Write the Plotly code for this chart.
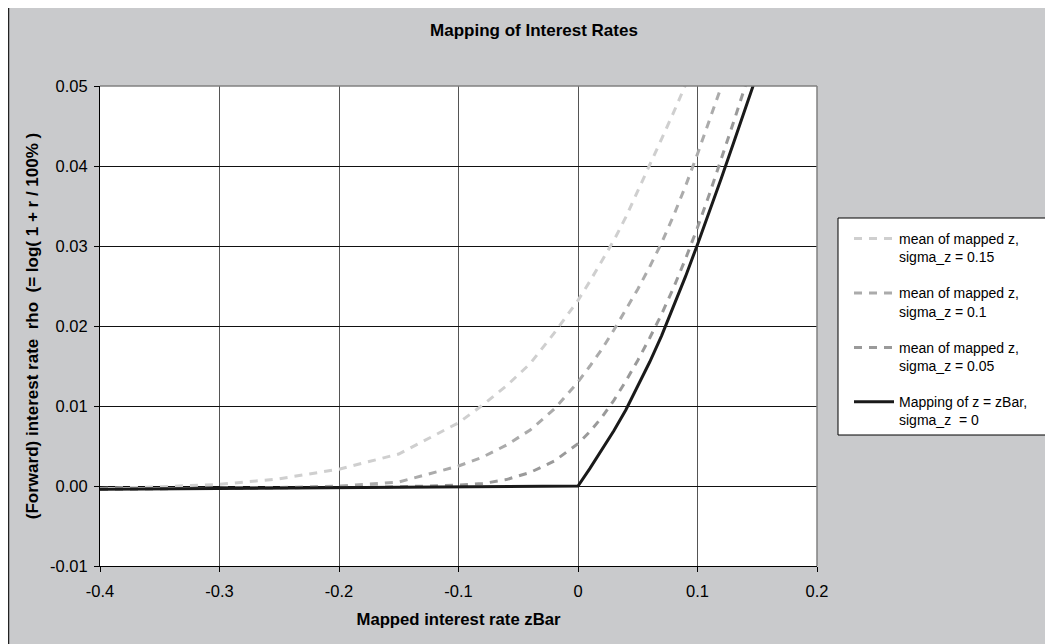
import plotly.graph_objects as go

# ---- data ----
x_vals = [-0.40, -0.35, -0.30, -0.25, -0.20, -0.15, -0.10, -0.08, -0.06, -0.04, -0.02,
          0.00, 0.01, 0.02, 0.03, 0.04, 0.05, 0.06, 0.07, 0.08, 0.09, 0.10,
          0.11, 0.12, 0.13, 0.14, 0.15, 0.16]

rho_sigma_015 = [-0.0003, -0.0001, 0.0002, 0.0009, 0.0021, 0.0040, 0.0079, 0.0101, 0.0125, 0.0153, 0.0191,
                 0.0232, 0.0256, 0.0281, 0.0307, 0.0336, 0.0368, 0.0401, 0.0434, 0.0467, 0.0500, 0.0535,
                 0.0570, 0.0605, 0.0640, 0.0675, 0.0710, 0.0745]

rho_sigma_010 = [-0.0004, -0.00035, -0.0003, -0.0002, 0.0000, 0.0005, 0.0025, 0.0036, 0.0051, 0.0070, 0.0096,
                 0.0130, 0.0150, 0.0171, 0.0195, 0.0220, 0.0246, 0.0274, 0.0304, 0.0338, 0.0375, 0.0415,
                 0.0456, 0.0497, 0.0540, 0.0583, 0.0626, 0.0669]

rho_sigma_005 = [-0.0004, -0.00035, -0.0003, -0.00025, -0.0002, -0.0001, 0.0001, 0.0003, 0.0008, 0.0017, 0.0031,
                 0.0053, 0.0068, 0.0086, 0.0107, 0.0131, 0.0157, 0.0185, 0.0215, 0.0248, 0.0284, 0.0323,
                 0.0365, 0.0409, 0.0454, 0.0500, 0.0546, 0.0592]

rho_sigma_000 = [-0.0004, -0.00035, -0.0003, -0.00025, -0.0002, -0.00015, -0.0001, -0.00008, -0.00006, -0.00004, -0.00002,
                 0.0000, 0.0022, 0.0045, 0.0069, 0.0095, 0.0124, 0.0155, 0.0188, 0.0224, 0.0262, 0.0302,
                 0.0343, 0.0385, 0.0428, 0.0471, 0.0515, 0.0559]

series_names = ["mean of mapped z,<br>sigma_z = 0.15",
                "mean of mapped z,<br>sigma_z = 0.1",
                "mean of mapped z,<br>sigma_z = 0.05",
                "Mapping of z = zBar,<br>sigma_z  = 0"]

x_tick_vals = [-0.4, -0.3, -0.2, -0.1, 0.0, 0.1, 0.2]
x_tick_text = ["-0.4", "-0.3", "-0.2", "-0.1", "0", "0.1", "0.2"]
y_tick_vals = [-0.01, 0.0, 0.01, 0.02, 0.03, 0.04, 0.05]
y_tick_text = ["-0.01", "0.00", "0.01", "0.02", "0.03", "0.04", "0.05"]

# ---- figure geometry (page is offset by the 8px body margin) ----
OFF = 8
W, H = 1053 - OFF, 644 - OFF
PL, PR, PT, PB = 100, 817, 86, 566          # plot area in page pixels
L, R, T, B = PL - OFF, W - (PR - OFF), PT - OFF, H - (PB - OFF)
pw, ph = W - L - R, H - T - B

def px_x(p):
    return (p - OFF - L) / pw

def px_y(p):
    return (H - B - (p - OFF)) / ph

FONT = "Liberation Sans, Arial, sans-serif"
styles = [
    dict(color="#cfcfcf", width=3, dash="8px,7px"),
    dict(color="#ababab", width=3, dash="8px,7px"),
    dict(color="#9a9a9a", width=3, dash="8px,7px"),
    dict(color="#1a1a1a", width=3, dash="solid"),
]
data_series = [rho_sigma_015, rho_sigma_010, rho_sigma_005, rho_sigma_000]

fig = go.Figure()
for i, (name, ys, st) in enumerate(zip(series_names, data_series, styles)):
    fig.add_trace(go.Scatter(x=x_vals, y=ys, mode="lines", name=name,
                             line=st, legendgroup=str(i), hoverinfo="skip"))

fig.update_layout(
    width=W, height=H,
    margin=dict(l=L, r=R, t=T, b=B, pad=0),
    paper_bgcolor="#c9cacc",
    plot_bgcolor="#ffffff",
    font=dict(family=FONT, size=16, color="#000000"),
    title=dict(text="<b>Mapping of Interest Rates</b>", x=(534 - OFF) / W, xanchor="center",
               y=1 - (30 - OFF) / H, yanchor="middle", font=dict(size=17, family=FONT)),
    showlegend=True,
    legend=dict(x=px_x(849), y=px_y(223), xanchor="left", yanchor="top",
                bgcolor="rgba(0,0,0,0)", borderwidth=0, valign="top",
                font=dict(size=14, family=FONT, color="#000000"),
                tracegroupgap=15, itemwidth=40, traceorder="grouped"),
    xaxis=dict(range=[-0.4, 0.2], tickmode="array", tickvals=x_tick_vals, ticktext=x_tick_text,
               showgrid=True, gridcolor="#555555", gridwidth=1,
               showline=True, linecolor="#000000", linewidth=1, mirror=False,
               ticks="outside", ticklen=5, tickcolor="#000000", zeroline=False,
               ticklabelstandoff=5,
               tickfont=dict(size=16.5, family=FONT),
               title=dict(text="<b>Mapped interest rate zBar</b>", font=dict(size=16.7, family=FONT),
                          standoff=14)),
    yaxis=dict(range=[-0.01, 0.05], tickmode="array", tickvals=y_tick_vals, ticktext=y_tick_text,
               showgrid=True, gridcolor="#111111", gridwidth=1,
               showline=True, linecolor="#000000", linewidth=1, mirror=False,
               ticks="outside", ticklen=5, tickcolor="#000000", zeroline=False,
               ticklabelstandoff=3,
               tickfont=dict(size=16.5, family=FONT),
               title=dict(text="<b>(Forward) interest rate  rho  (= log( 1 + r / 100% )</b>",
                          font=dict(size=17, family=FONT), standoff=7)),
)

# legend box
fig.add_shape(type="rect", xref="paper", yref="paper", layer="below",
              x0=px_x(838), x1=px_x(1047), y0=px_y(435), y1=px_y(218),
              fillcolor="#ffffff", line=dict(color="#000000", width=1))
# plot-area border (grey top/right)
fig.add_shape(type="line", xref="paper", yref="paper", x0=0, x1=1, y0=1, y1=1,
              line=dict(color="#808080", width=1.5))
fig.add_shape(type="line", xref="paper", yref="paper", x0=1, x1=1, y0=0, y1=1,
              line=dict(color="#808080", width=1.5))
# outer frame line on the left
fig.add_shape(type="line", xref="paper", yref="paper", x0=px_x(8.5), x1=px_x(8.5),
              y0=px_y(OFF), y1=px_y(644),
              line=dict(color="#222222", width=1.5))

fig.write_html("out.html")
